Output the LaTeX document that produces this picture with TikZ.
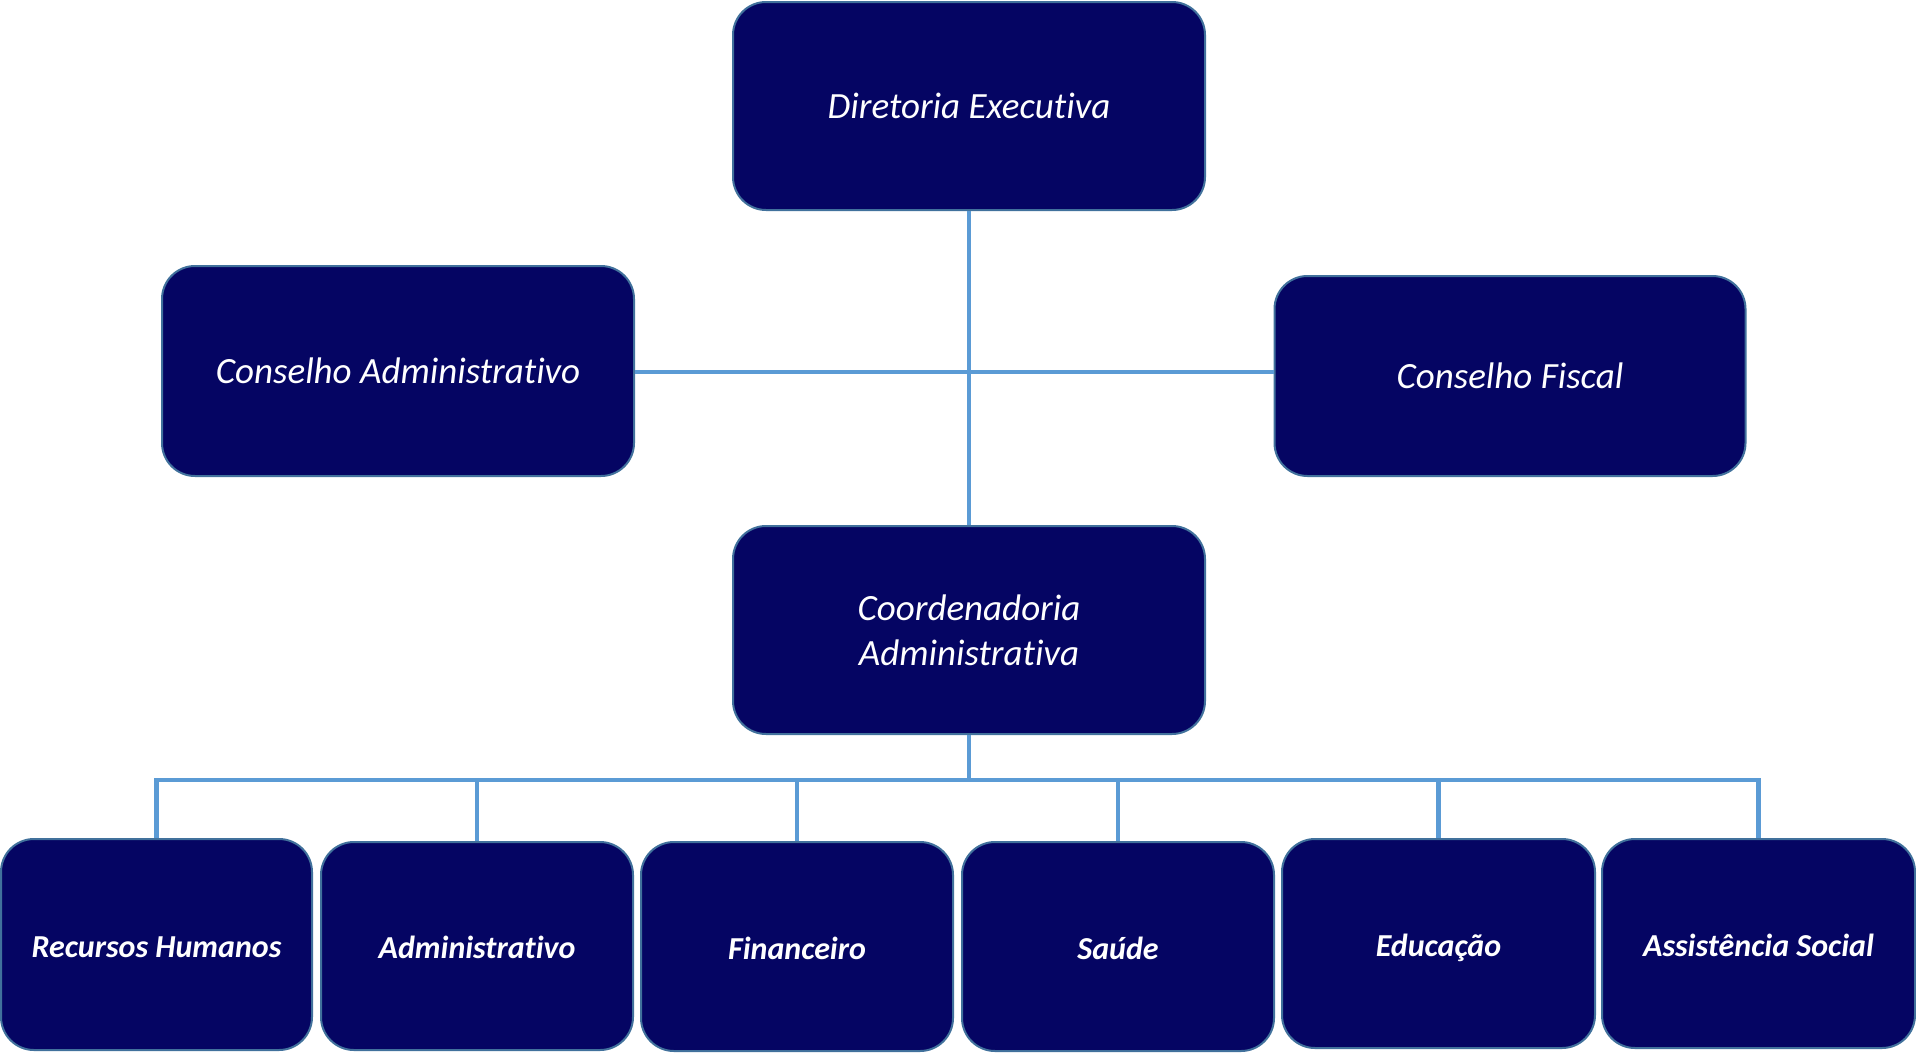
\documentclass[tikz,border=0pt]{standalone}
\usepackage{fontspec}
\setmainfont{Carlito}[RawFeature={-liga;-clig}]
\definecolor{navy}{RGB}{5,5,99}
\definecolor{bordercol}{RGB}{65,113,156}
\definecolor{linkcol}{RGB}{91,155,213}
\newcommand\topfont{\fontsize{37}{45}\selectfont\itshape}
\newcommand\lowfont{\fontsize{32}{39}\selectfont\bfseries\itshape}
\tikzset{
  orgbox/.style={draw=bordercol, line width=2pt, fill=navy, rounded corners=33pt,
    text=white, align=center, inner sep=0pt, font=\topfont},
  lowbox/.style={orgbox, font=\lowfont, text height=29pt, text depth=4pt},
  link/.style={draw=linkcol, line width=4.5pt},
}
\begin{document}
\begin{tikzpicture}[x=1pt,y=-1pt]
\useasboundingbox (0,0) rectangle (1916,1052);
% top level
\node[orgbox, minimum width=472pt, minimum height=208pt] (de) at (969,106) {Diretoria Executiva};
\node[orgbox, minimum width=472pt, minimum height=210pt] (ca) at (398,371) {Conselho Administrativo};
\node[orgbox, minimum width=471pt, minimum height=200pt] (cf) at (1510,376) {Conselho Fiscal};
\node[orgbox, minimum width=472pt, minimum height=208pt] (co) at (969,630) {Coordenadoria\\Administrativa};
% bottom level
\node[lowbox, minimum width=311pt, minimum height=211pt] (rh) at (156.5,944.5) {Recursos Humanos};
\node[lowbox, minimum width=312pt, minimum height=208pt] (ad) at (477,946) {Administrativo};
\node[lowbox, minimum width=312pt, minimum height=209pt] (fi) at (797,946.5) {Financeiro};
\node[lowbox, minimum width=312pt, minimum height=209pt] (sa) at (1118,946.5) {Saúde};
\node[lowbox, minimum width=313pt, minimum height=209pt] (ed) at (1438.5,943.5) {Educação};
\node[lowbox, minimum width=313pt, minimum height=209pt] (as) at (1758.5,943.5) {Assistência Social};
% connectors
\coordinate (bus) at (969,780);
\coordinate (hline) at (969,372);
\draw[link] (de.south) -- (co.north);
\draw[link] (ca.east |- hline) -- (cf.west |- hline);
\draw[link] (co.south) -- (co.south |- bus);
\draw[link] (rh.north) |- (bus) -| (as.north);
\draw[link] (ad.north) -- (ad.north |- bus);
\draw[link] (fi.north) -- (fi.north |- bus);
\draw[link] (sa.north) -- (sa.north |- bus);
\draw[link] (ed.north) -- (ed.north |- bus);
\end{tikzpicture}
\end{document}
